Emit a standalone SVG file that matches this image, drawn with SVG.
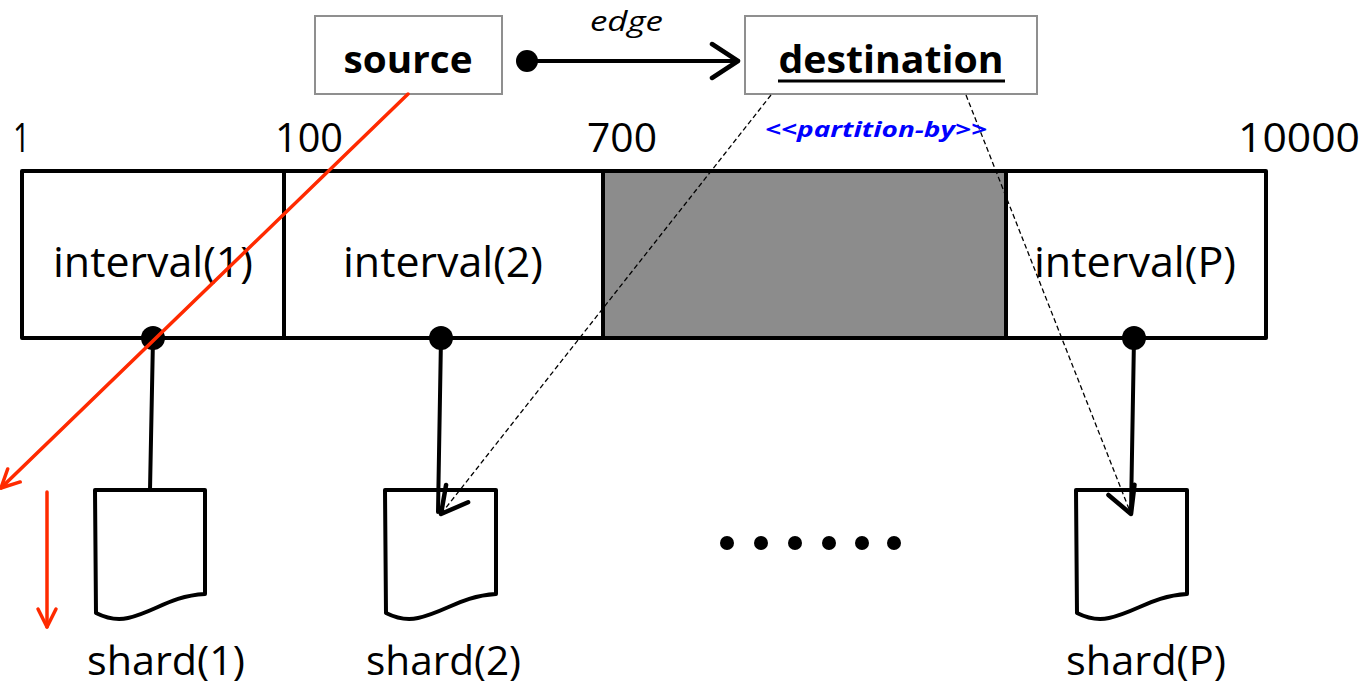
<svg xmlns="http://www.w3.org/2000/svg" width="1367" height="687" viewBox="0 0 1367 687">
  <style>
    .txt { font-family: "Open Sans", "Liberation Sans", Arial, sans-serif; fill: #000; }
    .big { font-size: 42px; }
    .lbl { font-size: 40px; }
    .num { font-size: 41px; }
    .hdr { font-size: 38px; font-weight: bold; }
    .box { fill: #fff; stroke: #8f8f8f; stroke-width: 2; }
    .bar { fill: none; stroke: #000; stroke-width: 4; stroke-linejoin: round; }
    .doc { fill: #fff; stroke: #000; stroke-width: 4; stroke-linejoin: round; }
    .solid { stroke: #000; stroke-width: 4; fill: none; stroke-linecap: round; }
    .dash { stroke: #000; stroke-width: 1.3; stroke-dasharray: 5 3; fill: none; }
    .red { stroke: #ff2a00; stroke-width: 3.5; fill: none; stroke-linecap: round; }
  </style>
  <defs>
    <marker id="openBlack" viewBox="0 0 32 40" refX="29" refY="20" markerWidth="32" markerHeight="40" markerUnits="userSpaceOnUse" orient="auto">
      <path d="M3,3 L29,20 L3,37" fill="none" stroke="#000" stroke-width="4.5" stroke-linecap="round" stroke-linejoin="round"/>
    </marker>
    <marker id="openBig" viewBox="0 0 34 34" refX="30" refY="17" markerWidth="34" markerHeight="34" markerUnits="userSpaceOnUse" orient="auto">
      <path d="M4,3 L30,17 L4,31" fill="none" stroke="#000" stroke-width="4.5" stroke-linecap="round" stroke-linejoin="round"/>
    </marker>
    <marker id="openRed" viewBox="0 0 24 24" refX="21" refY="12" markerWidth="24" markerHeight="24" markerUnits="userSpaceOnUse" orient="auto">
      <path d="M3,3 L21,12 L3,21" fill="none" stroke="#ff2a00" stroke-width="3.5" stroke-linecap="round" stroke-linejoin="round"/>
    </marker>
  </defs>

  <!-- source / destination nodes -->
  <g id="source">
    <rect class="box" x="315" y="16" width="187" height="78"/>
    <text class="txt hdr" x="408" y="73" text-anchor="middle" textLength="129" lengthAdjust="spacingAndGlyphs">source</text>
  </g>
  <g id="destination">
    <rect class="box" x="745" y="16" width="292" height="78"/>
    <text class="txt hdr" x="891" y="73" text-anchor="middle" textLength="225" lengthAdjust="spacingAndGlyphs">destination</text>
    <line x1="778" y1="81" x2="1005" y2="81" stroke="#000" stroke-width="3"/>
  </g>

  <!-- key range labels -->
  <g id="range-labels">
    <text class="txt num" x="13" y="152" textLength="17" lengthAdjust="spacingAndGlyphs">1</text>
    <text class="txt num" x="275" y="152" textLength="68" lengthAdjust="spacingAndGlyphs">100</text>
    <text class="txt num" x="587" y="152" textLength="70" lengthAdjust="spacingAndGlyphs">700</text>
    <text class="txt num" x="1238" y="152" textLength="122" lengthAdjust="spacingAndGlyphs">10000</text>
  </g>

  <!-- interval bar -->
  <g id="intervals">
    <rect x="603" y="171" width="403" height="167" fill="#8c8c8c"/>
    <rect class="bar" x="22" y="171" width="1244" height="167"/>
    <line class="bar" x1="284" y1="171" x2="284" y2="338"/>
    <line class="bar" x1="603" y1="171" x2="603" y2="338"/>
    <line class="bar" x1="1006" y1="171" x2="1006" y2="338"/>
    <text class="txt big" x="53" y="277" textLength="200" lengthAdjust="spacingAndGlyphs">interval(1)</text>
    <text class="txt big" x="343" y="277" textLength="200" lengthAdjust="spacingAndGlyphs">interval(2)</text>
    <text class="txt big" x="1034" y="277" textLength="202" lengthAdjust="spacingAndGlyphs">interval(P)</text>
  </g>

  <!-- shards -->
  <g id="shard1">
    <path class="doc" d="M95,490 H205 V594 C170,596 155,612 128,618 C115,621 104,617 96,613 Z"/>
    <text class="txt lbl" x="87" y="675" textLength="158" lengthAdjust="spacingAndGlyphs">shard(1)</text>
  </g>
  <g id="shard2">
    <path class="doc" d="M385,490 H496 V594 C461,596 446,612 418,618 C405,621 394,617 386,613 Z"/>
    <text class="txt lbl" x="366" y="675" textLength="155" lengthAdjust="spacingAndGlyphs">shard(2)</text>
  </g>
  <g id="shardP">
    <path class="doc" d="M1076,490 H1187 V594 C1152,596 1137,612 1109,618 C1096,621 1085,617 1077,613 Z"/>
    <text class="txt lbl" x="1066" y="675" textLength="160" lengthAdjust="spacingAndGlyphs">shard(P)</text>
  </g>

  <!-- ellipsis between shards -->
  <g id="ellipsis" fill="#000">
    <circle cx="727" cy="543" r="7"/>
    <circle cx="761" cy="543" r="7"/>
    <circle cx="795" cy="543" r="7"/>
    <circle cx="829" cy="543" r="7"/>
    <circle cx="862" cy="543" r="7"/>
    <circle cx="894" cy="543" r="7"/>
  </g>

  <!-- connectors -->
  <g id="connectors">
    <!-- edge: source to destination -->
    <circle cx="527" cy="61" r="11" fill="#000"/>
    <line class="solid" x1="527" y1="61" x2="738" y2="61" stroke-width="4.5" marker-end="url(#openBlack)"/>
    <text class="txt" x="590" y="31" font-size="27" font-style="italic" textLength="73" lengthAdjust="spacingAndGlyphs">edge</text>

    <!-- interval to shard links -->
    <line class="solid" x1="153" y1="338" x2="150" y2="490"/>
    <line class="solid" x1="441" y1="338" x2="438" y2="512"/>
    <line class="solid" x1="1134" y1="338" x2="1131" y2="512"/>
    <circle cx="153" cy="338" r="12" fill="#000"/>
    <circle cx="441" cy="338" r="12" fill="#000"/>
    <circle cx="1134" cy="338" r="12" fill="#000"/>

    <!-- partition-by dashed arrows -->
    <line class="dash" x1="771" y1="95" x2="441" y2="514" marker-end="url(#openBig)"/>
    <line class="dash" x1="966" y1="95" x2="1131" y2="514" marker-end="url(#openBig)"/>
    <text x="876" y="137" text-anchor="middle" font-family="Open Sans, Liberation Sans, Arial, sans-serif" font-size="22" font-weight="bold" font-style="italic" fill="#0000ff" textLength="222" lengthAdjust="spacingAndGlyphs">&lt;&lt;partition-by&gt;&gt;</text>

    <!-- red arrows -->
    <line class="red" x1="408" y1="94" x2="1" y2="488" marker-end="url(#openRed)"/>
    <line class="red" x1="47" y1="492" x2="47" y2="627" marker-end="url(#openRed)"/>
  </g>
</svg>
